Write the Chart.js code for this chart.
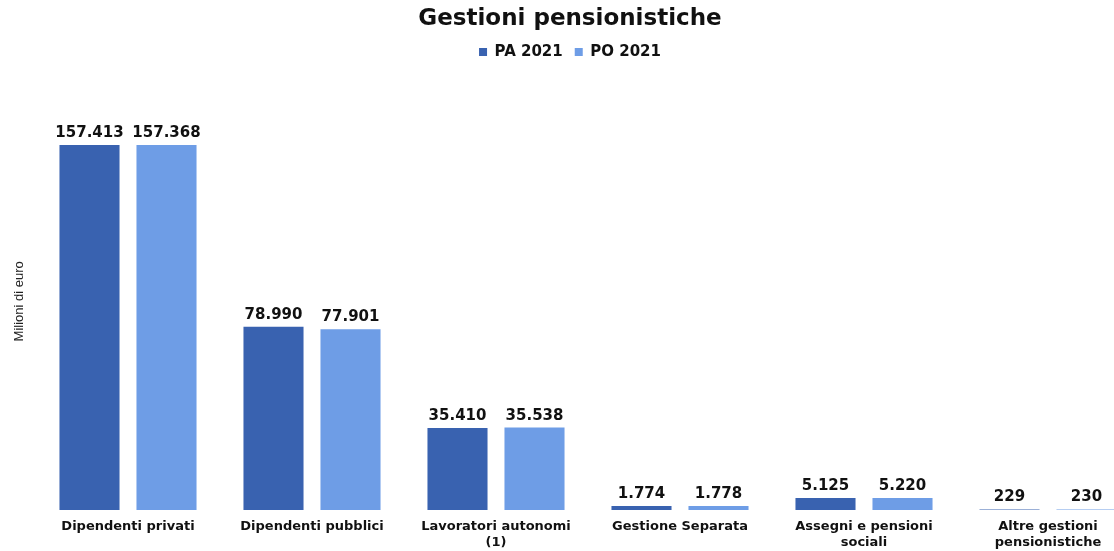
<!DOCTYPE html>
<html>
<head>
<meta charset="utf-8">
<script src="https://cdn.jsdelivr.net/npm/chart.js@4.4.1/dist/chart.umd.min.js"></script>
<style>
  html, body { margin: 0; padding: 0; background: #fff; overflow: hidden; }
  #wrap { width: 1140px; height: 551px; }
</style>
</head>
<body>
<div id="wrap"><canvas id="pensChart"></canvas></div>
<script>
// data (milioni di euro)
const categories = [
    'Dipendenti privati',
    'Dipendenti pubblici',
    ['Lavoratori autonomi', '(1)'],
    'Gestione Separata',
    ['Assegni e pensioni', 'sociali'],
    ['Altre gestioni', 'pensionistiche']
];
const pa2021 = [157413, 78990, 35410, 1774, 5125, 229];
const po2021 = [157368, 77901, 35538, 1778, 5220, 230];

const DARK = '#3962b0';
const LIGHT = '#6e9de6';
const BOLD = '"DejaVu Sans", "Liberation Sans", sans-serif';

function fmt(v) {
    return String(v).replace(/\B(?=(\d{3})+(?!\d))/g, '.');
}

// value labels over every bar
const valueLabels = {
    id: 'valueLabels',
    afterDatasetsDraw(chart) {
        const ctx = chart.ctx;
        ctx.save();
        ctx.font = 'bold 15px ' + BOLD;
        ctx.fillStyle = '#111';
        ctx.textAlign = 'center';
        ctx.textBaseline = 'alphabetic';
        chart.data.datasets.forEach((ds, i) => {
            chart.getDatasetMeta(i).data.forEach((bar, j) => {
                ctx.fillText(fmt(ds.data[j]), bar.x, bar.y - 8);
            });
        });
        ctx.restore();
    }
};

// extra room below the legend
const legendMargin = {
    id: 'legendMargin',
    beforeInit(chart) {
        const fit = chart.legend.fit;
        chart.legend.fit = function() {
            fit.bind(chart.legend)();
            this.height += 23;
        };
    }
};

const ctxP = document.getElementById('pensChart').getContext('2d');
window.pensChart = new Chart(ctxP, {
    type: 'bar',
    data: {
        labels: categories,
        datasets: [
            { label: 'PA 2021', data: pa2021, backgroundColor: DARK,
              categoryPercentage: 0.837, barPercentage: 0.78 },
            { label: 'PO 2021', data: po2021, backgroundColor: LIGHT,
              categoryPercentage: 0.837, barPercentage: 0.78 }
        ]
    },
    options: {
        responsive: true,
        maintainAspectRatio: false,
        animation: false,
        layout: { padding: 0 },
        plugins: {
            title: {
                display: true,
                text: 'Gestioni pensionistiche',
                color: '#111',
                font: { family: BOLD, size: 23, weight: 'bold' },
                padding: { top: 5, bottom: 0 }
            },
            legend: {
                display: true,
                labels: {
                    boxWidth: 8,
                    boxHeight: 8,
                    padding: 12,
                    color: '#111',
                    font: { family: BOLD, size: 15, weight: 'bold' }
                }
            },
            tooltip: { enabled: false }
        },
        scales: {
            x: {
                grid: { display: false, drawTicks: false },
                border: { display: false },
                ticks: {
                    color: '#111',
                    padding: 8,
                    maxRotation: 0,
                    autoSkip: false,
                    font: { family: BOLD, size: 13, weight: 'bold', lineHeight: 1.25 }
                },
                afterFit(scale) { scale.height = 41; }
            },
            y: {
                min: 0,
                max: 180000,
                grid: { display: false, drawTicks: false },
                border: { display: false },
                ticks: { display: false },
                title: {
                    display: true,
                    text: 'Milioni di euro',
                    color: '#222',
                    font: { family: '"Liberation Sans Narrow", "Liberation Sans", sans-serif', size: 13 },
                    padding: { top: 12, bottom: 0 }
                },
                afterFit(scale) { scale.width = 36; }
            }
        }
    },
    plugins: [valueLabels, legendMargin]
});
</script>
</body>
</html>
